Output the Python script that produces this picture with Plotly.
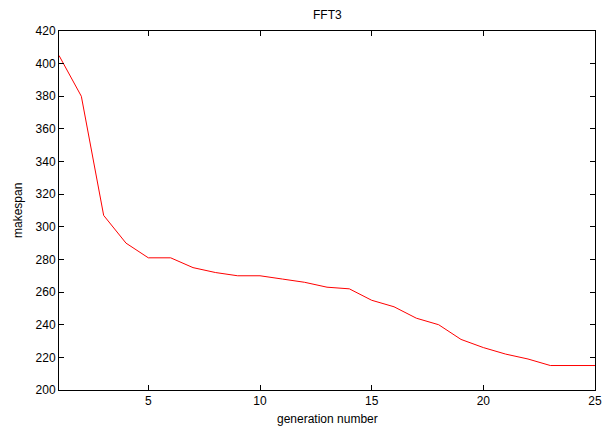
import plotly.graph_objects as go

generations = list(range(1, 26))
makespan = [405, 380, 307, 290, 281, 281, 275, 272, 270, 270, 268, 266, 263,
            262, 255, 251, 244, 240, 231, 226, 222, 219, 215, 215, 215]
x_ticks = [5, 10, 15, 20, 25]
y_ticks = list(range(200, 421, 20))

font = dict(family="Liberation Sans, Arial, sans-serif", size=12, color="#000")

fig = go.Figure()
fig.add_trace(go.Scatter(x=generations, y=makespan, mode="lines",
                         line=dict(color="#ff0000", width=1), showlegend=False,
                         hoverinfo="skip"))

axis_common = dict(showline=True, linecolor="#000", linewidth=1, mirror="ticks",
                   ticks="inside", ticklen=5, tickcolor="#000", tickwidth=1,
                   showgrid=False, zeroline=False, tickfont=font)

fig.update_layout(
    width=613, height=428,
    margin=dict(l=59, r=11, t=31, b=38),
    paper_bgcolor="white", plot_bgcolor="white",
    xaxis=dict(range=[1, 25], tickvals=x_ticks, **axis_common),
    yaxis=dict(range=[200, 420], tickvals=y_ticks, **axis_common),
    annotations=[
        dict(text="FFT3", xref="paper", yref="paper", x=0.5, y=1 + 16 / 359,
             showarrow=False, font=font, xanchor="center", yanchor="middle"),
        dict(text="generation number", xref="paper", yref="paper", x=0.5, y=-29 / 359,
             showarrow=False, font=font, xanchor="center", yanchor="middle"),
        dict(text="makespan", xref="paper", yref="paper", x=-42 / 543, y=0.5,
             showarrow=False, font=font, textangle=-90, xanchor="center", yanchor="middle"),
    ],
)

fig.write_html(
    "out.html",
    config={"responsive": False, "displayModeBar": False},
    post_script="document.body.style.margin='0';document.body.style.overflow='hidden';",
)
